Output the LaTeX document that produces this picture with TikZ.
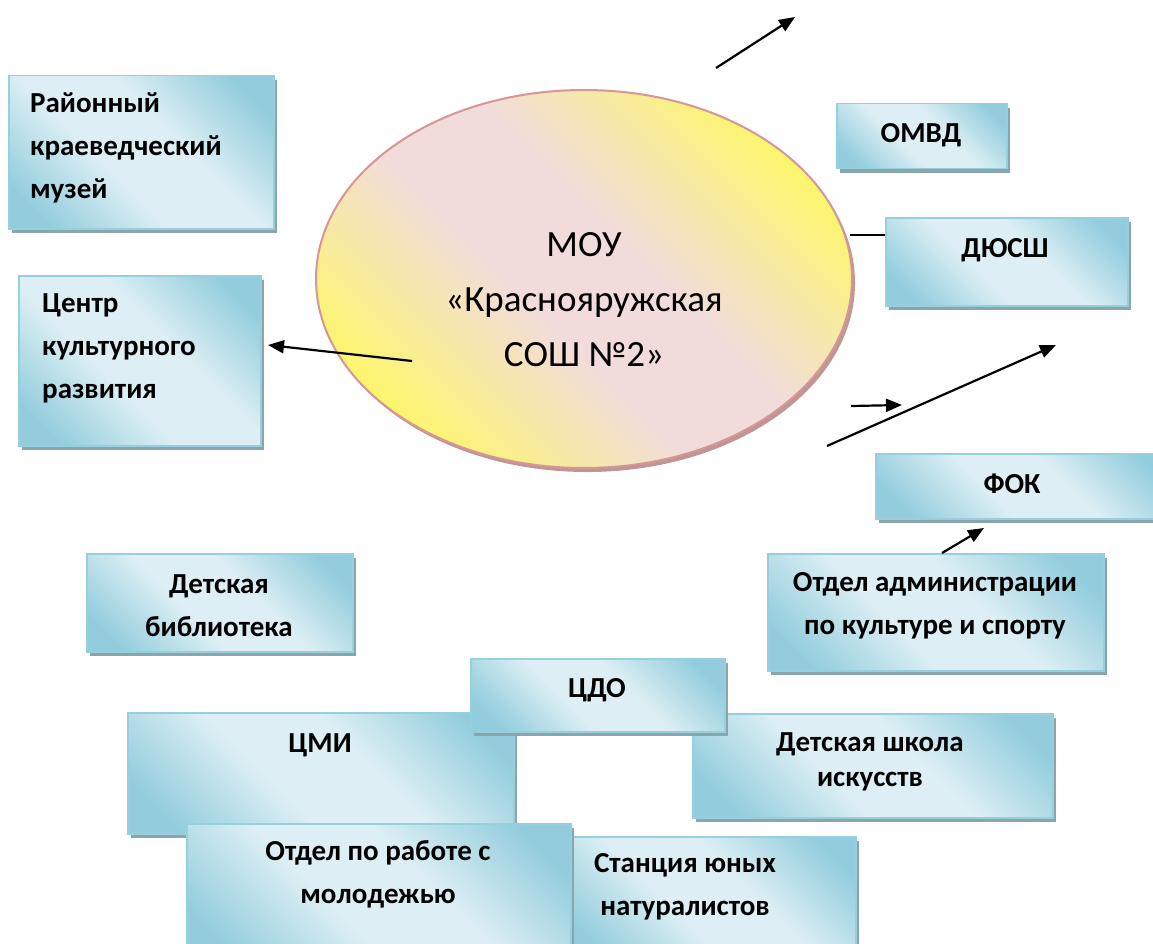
\documentclass[tikz,border=0pt]{standalone}
\usepackage{fontspec}
\setmainfont{Carlito}
\usetikzlibrary{shapes.geometric,arrows.meta,shadows}
\definecolor{bdark}{RGB}{147,205,221}
\definecolor{blight}{RGB}{221,239,244}
\definecolor{bborder}{RGB}{150,208,223}
\definecolor{bshadow}{RGB}{140,165,170}
\definecolor{eyel}{RGB}{252,246,110}
\definecolor{epink}{RGB}{242,220,219}
\definecolor{eborder}{RGB}{214,150,150}
\definecolor{eshadow}{RGB}{190,150,150}
\pgfdeclarehorizontalshading{bluediag}{100bp}{color(0bp)=(bdark); color(22bp)=(bdark); color(42bp)=(blight); color(58bp)=(blight); color(78bp)=(bdark); color(100bp)=(bdark)}
\pgfdeclarehorizontalshading{elldiag}{100bp}{color(0bp)=(eyel); color(25bp)=(eyel); color(44bp)=(epink); color(56bp)=(epink); color(75bp)=(eyel); color(100bp)=(eyel)}
\tikzset{
  box/.style={rectangle, draw=bborder, line width=1.5pt, shading=bluediag, shading angle=45,
    general shadow={fill=bshadow, shadow xshift=3pt, shadow yshift=-4pt},
    anchor=north west, inner sep=0pt},
  lbl/.style={font=\bfseries\fontsize{29}{43}\selectfont, align=center, inner sep=0pt},
  lbll/.style={lbl, align=left, anchor=west},
  arr/.style={line width=2.2pt, -{Triangle[length=16pt,width=13pt]}},
  conn/.style={line width=2.2pt}
}
\begin{document}
\begin{tikzpicture}[x=1pt,y=-1pt]
\useasboundingbox (0,0) rectangle (1153,944);
\clip (0,0) rectangle (1153,944);
% central ellipse
\node[ellipse, minimum width=536pt, minimum height=378pt, draw=eborder, line width=2pt,
  shading=elldiag, shading angle=45,
  general shadow={fill=eshadow, shadow xshift=3pt, shadow yshift=-4pt}] (moy) at (584,279) {};
\node[font=\fontsize{37}{55}\selectfont, align=center, inner sep=0pt] (moyt) at (584,300)
  {МОУ\\«Краснояружская\\СОШ №2»};
% boxes
\node[box, minimum width=265pt, minimum height=153pt] (rkm) at (8,75) {};
\node[lbll] (rkmt) at (30,148) {Районный\\краеведческий\\музей};
\node[box, minimum width=242pt, minimum height=170pt] (ckr) at (18,275) {};
\node[lbll] (ckrt) at (42,348) {Центр\\культурного\\развития};
\node[box, minimum width=266pt, minimum height=98pt] (dbib) at (86,553) {};
\node[lbl] (dbibt) at (219,606) {Детская\\библиотека};
\node[box, minimum width=170pt, minimum height=65pt] (omvd) at (836,103) {};
\node[lbl] (omvdt) at (921,135) {ОМВД};
\node[box, minimum width=242pt, minimum height=88pt] (dush) at (885,217) {};
\node[lbl] (dusht) at (1005,250) {ДЮСШ};
\node[box, minimum width=300pt, minimum height=65pt] (fok) at (875,453) {};
\node[lbl] (fokt) at (1012,484) {ФОК};
\node[box, minimum width=336pt, minimum height=117pt] (oadm) at (767,553) {};
\node[lbl] (oadmt) at (935,606) {Отдел администрации\\по культуре и спорту};
\node[box, minimum width=360pt, minimum height=104pt] (dshi) at (692,713) {};
\node[lbl, font=\bfseries\fontsize{29}{35}\selectfont] (dshit) at (870,762) {Детская школа\\искусств};
\node[box, minimum width=386pt, minimum height=121pt] (cmi) at (127,712) {};
\node[lbl] (cmit) at (320,745) {ЦМИ};
\node[box, minimum width=254pt, minimum height=73pt] (cdo) at (470,658) {};
\node[lbl] (cdot) at (597,690) {ЦДО};
\node[box, minimum width=283pt, minimum height=130pt] (syun) at (572,836) {};
\node[lbl] (syunt) at (685,887) {Станция юных\\натуралистов};
\node[box, minimum width=384pt, minimum height=140pt] (otm) at (186,823) {};
\node[lbl] (otmt) at (378,874) {Отдел по работе с\\молодежью};
% connectors
\coordinate (a1s) at (716,68);
\coordinate (a1e) at (795,17);
\draw[arr] (a1s) -- (a1e);
\coordinate (a2s) at (412,361);
\coordinate (a2e) at (268,345);
\draw[arr] (a2s) -- (a2e);
\coordinate (l3s) at (850,235);
\draw[conn] (l3s) -- (dush.west |- l3s);
\coordinate (a4s) at (851,406);
\coordinate (a4e) at (902,405);
\draw[arr] (a4s) -- (a4e);
\coordinate (a5s) at (827,446);
\coordinate (a5e) at (1056,345);
\draw[arr] (a5s) -- (a5e);
\coordinate (a6s) at (942,553);
\coordinate (a6e) at (984,528);
\draw[arr] (a6s) -- (a6e);
\end{tikzpicture}
\end{document}
